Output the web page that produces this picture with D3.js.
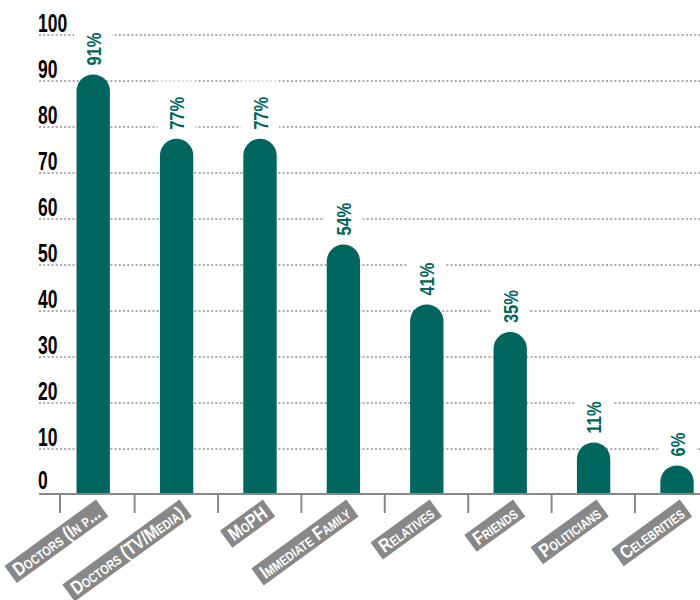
<!DOCTYPE html>
<html>
<head>
<meta charset="utf-8">
<script src="https://cdn.jsdelivr.net/npm/d3@7/dist/d3.min.js"></script>
<style>
  html, body { margin: 0; padding: 0; background: #fff; }
  svg { display: block; }
  .cond { font-family: "Liberation Sans", Arial, "DejaVu Sans", sans-serif; font-weight: bold; }
</style>
</head>
<body>
<svg id="chart" width="700" height="600"></svg>
<script>
const categories = ["Doctors (In p...", "Doctors (TV/Media)", "MoPH", "Immediate Family", "Relatives", "Friends", "Politicians", "Celebrities"];
const values = [91, 77, 77, 54, 41, 35, 11, 6];
const yTicks = [0, 10, 20, 30, 40, 50, 60, 70, 80, 90, 100];
const valueLabels = values.map(v => v + "%");

const teal = "#00665e";
const gray = "#888888";

const svg = d3.select("#chart");

const x = d3.scaleBand()
  .domain(categories)
  .range([51.5, 718.7])
  .paddingInner(0.6)
  .paddingOuter(0.3);

const y = d3.scaleLinear().domain([0, 100]).range([495, 35]);

const gridLeft = 39, gridRight = 700;
const baseY = 494;

// gridlines (dotted)
svg.append("g").selectAll("line")
  .data(yTicks.filter(t => t > 0))
  .join("line")
  .attr("x1", gridLeft).attr("x2", gridRight)
  .attr("y1", d => y(d)).attr("y2", d => y(d))
  .attr("stroke", "#acacac")
  .attr("stroke-width", 2)
  .attr("stroke-dasharray", "2,2.2");

// y tick labels (condensed by horizontal scale)
svg.append("g").selectAll("text")
  .data(yTicks)
  .join("text")
  .attr("class", "cond")
  .attr("font-size", 25)
  .attr("fill", "#000")
  .attr("transform", d => `translate(38,${d === 0 ? y(d) - 6 : y(d) - 3}) scale(0.7,1)`)
  .text(d => d);

// bars with rounded tops
const bw = x.bandwidth();
const r = bw / 2;
svg.append("g").selectAll("path")
  .data(values)
  .join("path")
  .attr("fill", teal)
  .attr("d", (d, i) => {
    const x0 = x(categories[i]);
    const top = y(d) - 2;
    const bot = baseY;
    return `M${x0},${bot} L${x0},${top + r} A${r},${r} 0 0 1 ${x0 + bw},${top + r} L${x0 + bw},${bot} Z`;
  });

// value labels with white backgrounds
const lblG = svg.append("g");
values.forEach((v, i) => {
  const cx = x(categories[i]) + bw / 2;
  const startY = y(v) - 2 - 9;
  const g = lblG.append("g");
  const sx = 0.78;
  const t = g.append("text")
    .attr("class", "cond")
    .attr("font-size", 21)
    .attr("fill", teal)
    .attr("transform", `translate(${cx + 7.5},${startY}) rotate(-90) scale(${sx},1)`)
    .text(valueLabels[i]);
  const len = t.node().getComputedTextLength() * sx;
  g.insert("rect", "text")
    .attr("x", cx - 19).attr("width", 38)
    .attr("y", startY - len - 18).attr("height", 16)
    .attr("fill", "#fff").attr("opacity", 0.6);
  g.insert("rect", "text")
    .attr("x", cx - 19).attr("width", 38)
    .attr("y", startY - len - 2).attr("height", len + 4)
    .attr("fill", "#fff");
});

// x axis line
svg.append("line")
  .attr("x1", gridLeft).attr("x2", gridRight)
  .attr("y1", baseY).attr("y2", baseY)
  .attr("stroke", gray).attr("stroke-width", 2);

// ticks at category boundaries
svg.append("g").selectAll("line")
  .data(categories)
  .join("line")
  .attr("x1", d => Math.max(60, x(d) + bw / 2 - 42))
  .attr("x2", d => Math.max(60, x(d) + bw / 2 - 42))
  .attr("y1", baseY).attr("y2", baseY + 19)
  .attr("stroke", gray).attr("stroke-width", 2);

// rotated category labels in gray boxes
const catG = svg.append("g");
categories.forEach((c, i) => {
  const cx = x(c) + bw / 2;
  const sx = 0.82;
  const g = catG.append("g")
    .attr("transform", `translate(${cx + 9},${508}) rotate(-36)`);
  const t = g.append("text")
    .attr("class", "cond")
    .attr("font-size", 19)
    .attr("fill", "#fff")
    .attr("text-anchor", "end")
    .attr("transform", `translate(-5,6.5) scale(${sx},1)`)
    .style("font-variant", "small-caps")
    .text(c);
  const len = t.node().getComputedTextLength() * sx;
  g.insert("rect", "text")
    .attr("x", -len - 10).attr("y", -10.5)
    .attr("width", len + 10).attr("height", 21)
    .attr("fill", gray);
});
</script>
</body>
</html>
